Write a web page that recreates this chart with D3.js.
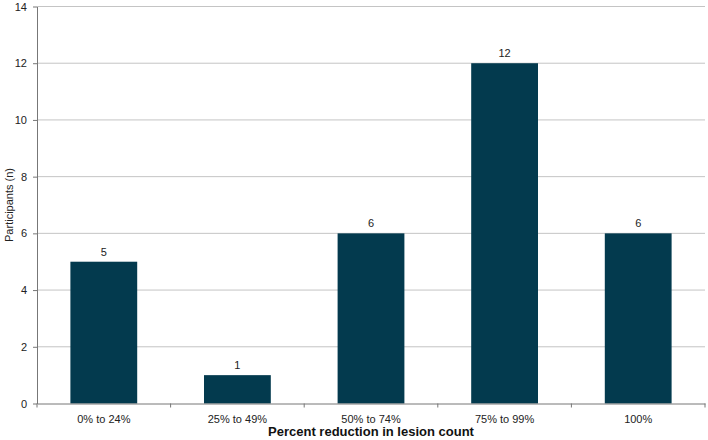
<!DOCTYPE html>
<html>
<head>
<meta charset="utf-8">
<script src="https://cdn.jsdelivr.net/npm/d3@7"></script>
<style>
  html, body { margin: 0; padding: 0; background: #fff; }
  svg { display: block; font-family: "Liberation Sans", Arial, sans-serif; }
</style>
</head>
<body>
<svg id="chart" width="708" height="440"></svg>
<script>
const categories = ["0% to 24%", "25% to 49%", "50% to 74%", "75% to 99%", "100%"];
const participants = [5, 1, 6, 12, 6];
const yTicks = [0, 2, 4, 6, 8, 10, 12, 14];
const xTitle = "Percent reduction in lesion count";
const yTitle = "Participants (n)";

const svg = d3.select("#chart");
const margin = { left: 37, right: 3, top: 6.5, bottom: 36.5 };
const W = 708, H = 440;

const x = d3.scaleBand().domain(categories).range([margin.left, W - margin.right]).paddingInner(0).paddingOuter(0);
const y = d3.scaleLinear().domain([0, 14]).range([H - margin.bottom, margin.top]);

// gridlines
svg.append("g").selectAll("line").data(yTicks.filter(d => d > 0)).join("line")
  .attr("x1", margin.left).attr("x2", W - margin.right)
  .attr("y1", d => y(d)).attr("y2", d => y(d))
  .attr("stroke", "#c4c4c4").attr("stroke-width", 1);

// bars
const barW = x.bandwidth() * 0.5;
svg.append("g").selectAll("rect").data(participants).join("rect")
  .attr("x", (d, i) => x(categories[i]) + (x.bandwidth() - barW) / 2)
  .attr("y", d => y(d))
  .attr("width", barW)
  .attr("height", d => y(0) - y(d))
  .attr("fill", "#033a4e");

// value labels
svg.append("g").selectAll("text").data(participants).join("text")
  .attr("x", (d, i) => x(categories[i]) + x.bandwidth() / 2)
  .attr("y", d => y(d) - 6)
  .attr("text-anchor", "middle")
  .attr("font-size", 11)
  .attr("fill", "#222")
  .text(d => d);

// y axis
const yAxis = d3.axisLeft(y).tickValues(yTicks).tickSize(4).tickPadding(6).tickSizeOuter(0);
const gy = svg.append("g").attr("transform", `translate(${margin.left},0)`).call(yAxis);
gy.select(".domain").attr("stroke", "#777");
gy.selectAll(".tick line").attr("stroke", "#777");
gy.selectAll(".tick text").attr("font-size", 11).attr("fill", "#222").attr("font-family", "Liberation Sans, Arial, sans-serif");

// x axis
const xAxis = d3.axisBottom(x).tickSize(0).tickPadding(10).tickSizeOuter(0);
const gx = svg.append("g").attr("transform", `translate(0,${y(0)})`).call(xAxis);
gx.select(".domain").attr("stroke", "#777");
gx.selectAll(".tick text").attr("font-size", 11).attr("fill", "#222").attr("font-family", "Liberation Sans, Arial, sans-serif").attr("dy", "0.9em");
// boundary ticks
const bounds = categories.map(c => x(c)).concat([x(categories[categories.length - 1]) + x.bandwidth()]);
svg.append("g").selectAll("line").data(bounds).join("line")
  .attr("x1", d => d).attr("x2", d => d)
  .attr("y1", y(0)).attr("y2", y(0) + 4)
  .attr("stroke", "#777");

// titles
svg.append("text")
  .attr("x", (margin.left + W - margin.right) / 2)
  .attr("y", 436)
  .attr("text-anchor", "middle")
  .attr("font-size", 13).attr("font-weight", "bold").attr("fill", "#111")
  .text(xTitle);

svg.append("text")
  .attr("transform", `translate(13,${(margin.top + y(0)) / 2}) rotate(-90)`)
  .attr("text-anchor", "middle")
  .attr("font-size", 11).attr("fill", "#222")
  .text(yTitle);
</script>
</body>
</html>
